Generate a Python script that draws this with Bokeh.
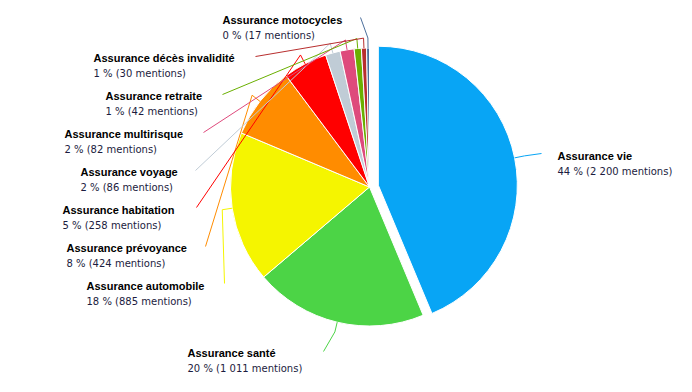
import numpy as np
from bokeh.plotting import figure
from bokeh.models import Range1d
from bokeh.core.properties import value
from bokeh.embed import file_html
from bokeh.resources import INLINE

# ---- data ----
categories = ["Assurance vie", "Assurance santé", "Assurance automobile",
              "Assurance prévoyance", "Assurance habitation", "Assurance voyage",
              "Assurance multirisque", "Assurance retraite",
              "Assurance décès invalidité", "Assurance motocycles"]
mentions = [2200, 1011, 885, 424, 258, 86, 82, 42, 30, 17]
colors = ["#08a5f5", "#4cd446", "#f5f500", "#ff8c00", "#ff0000",
          "#c0ccd6", "#de4a7c", "#6aaf00", "#b82e2e", "#4c6f9c"]

# ---- layout (screen px, relative to the figure's top-left) ----
W, H = 676, 376
CX, CY, R = 369, 186.5, 139
SLICE_OFFSET = 9
label_pos = [(557, 155), (187, 352), (86, 285), (66, 247), (62, 209),
             (80, 171), (64, 133), (105, 95), (93, 57), (222, 19)]
connector_end = [(541, 153), (323, 351), (224, 283), (205, 246), (196, 207),
                 (195, 170), (203, 132), (222, 94), (255, 56), (360, 17)]
LINE_GAP = 15.5

def fy(y):
    return H - y

total = sum(mentions)
fr = np.array(mentions) / total
a1 = np.cumsum(fr)
a0 = a1 - fr
mid = (a0 + a1) / 2

p = figure(width=W, height=H, x_range=Range1d(0, W), y_range=Range1d(0, H),
           output_backend="svg", toolbar_location=None, min_border=0,
           x_axis_location=None, y_axis_location=None)
p.grid.visible = False
p.outline_line_color = None
p.background_fill_color = "white"
p.border_fill_color = "white"

xs_c, ys_c = [], []
for i in range(len(mentions)):
    th = 2 * np.pi * mid[i]
    off = SLICE_OFFSET if i == 0 else 0
    cx = CX + off * np.sin(th)
    cy = CY - off * np.cos(th)
    p.wedge(x=cx, y=fy(cy), radius=R, radius_units="screen",
            start_angle=np.pi / 2 - 2 * np.pi * a0[i],
            end_angle=np.pi / 2 - 2 * np.pi * a1[i],
            direction="clock", fill_color=colors[i],
            line_color="white", line_width=1)
    ex, ey = cx + R * np.sin(th), cy - R * np.cos(th)
    kx, ky = cx + (R + 10) * np.sin(th), cy - (R + 10) * np.cos(th)
    tx, ty = connector_end[i]
    xs_c.append([ex, kx, tx])
    ys_c.append([fy(ey), fy(ky), fy(ty)])

p.multi_line(xs=xs_c, ys=ys_c, line_color=colors, line_width=1)

pct = [f"{round(v * 100):.0f} % ({v2:,} mentions)".replace(",", " ")
       for v, v2 in zip(fr, mentions)]
lx = [q[0] for q in label_pos]
ly1 = [fy(q[1]) for q in label_pos]
ly2 = [fy(q[1] + LINE_GAP) for q in label_pos]
p.text(x=lx, y=ly1, text=categories, text_font=value("Liberation Sans"),
       text_font_style="bold", text_font_size="11px", text_color="#000000",
       text_baseline="middle", text_align="left")
p.text(x=lx, y=ly2, text=pct, text_font=value("DejaVu Sans"),
       text_font_size="10px", text_color="#1c1c40",
       text_baseline="middle", text_align="left")

open("out.html", "w").write(file_html(p, INLINE))
